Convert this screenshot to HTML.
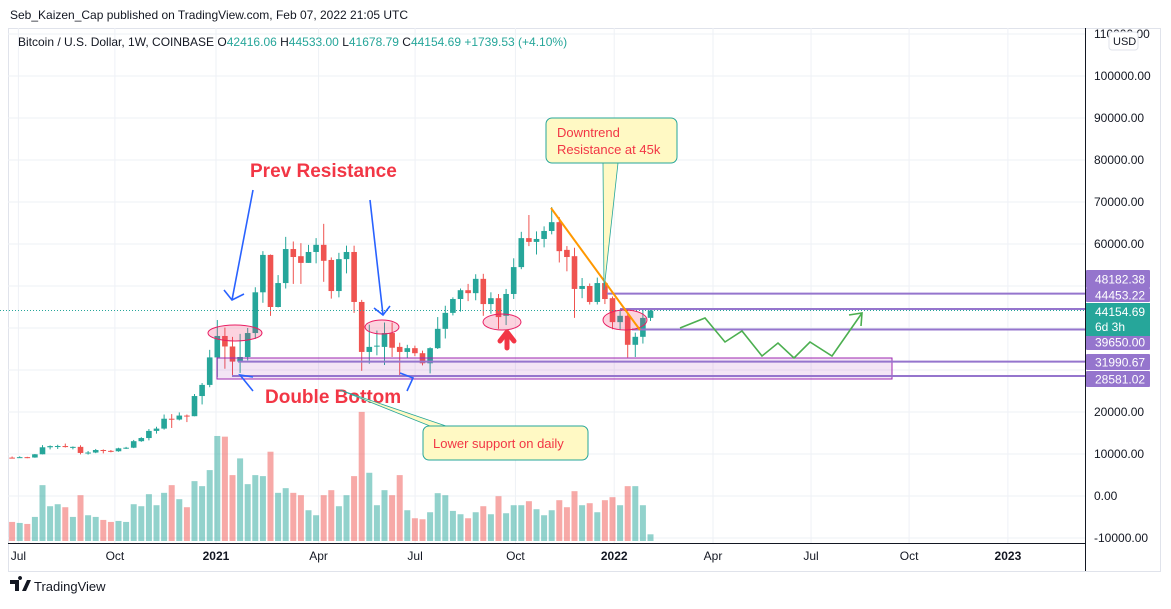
<!DOCTYPE html>
<html><head><meta charset="utf-8">
<style>
html,body{margin:0;padding:0;background:#fff;}
body{width:1171px;height:604px;overflow:hidden;font-family:"Liberation Sans",sans-serif;}
svg text{font-family:"Liberation Sans",sans-serif;}
</style></head>
<body>
<svg id="chart" width="1171" height="604" viewBox="0 0 1171 604" xmlns="http://www.w3.org/2000/svg">
<rect x="0" y="0" width="1171" height="604" fill="#fff"/>
<text x="10" y="19" font-size="12" fill="#131722">Seb_Kaizen_Cap published on TradingView.com, Feb 07, 2022 21:05 UTC</text>
<rect x="8.5" y="28.5" width="1152" height="543" fill="none" stroke="#e0e3eb"/>
<g id="grid"></g>
<g id="vol"></g>
<g id="candles"></g>
<g id="ann">
 <rect x="217" y="358" width="675" height="21" fill="rgba(156,39,176,0.12)" stroke="#9c27b0" stroke-width="1"/>
 <line x1="607" y1="293.6" x2="1085" y2="293.6" stroke="#9575cd" stroke-width="2"/>
 <line x1="620" y1="309" x2="1085" y2="309" stroke="#9575cd" stroke-width="2"/>
 <line x1="632" y1="329.5" x2="1085" y2="329.5" stroke="#9575cd" stroke-width="2"/>
 <line x1="238" y1="361.6" x2="1085" y2="361.6" stroke="#9575cd" stroke-width="2"/>
 <line x1="232" y1="376" x2="1085" y2="376" stroke="#9575cd" stroke-width="2"/>
 <line x1="0" y1="310.5" x2="1085" y2="310.5" stroke="#26a69a" stroke-dasharray="1 2"/>
 <ellipse cx="235" cy="333" rx="27" ry="8" fill="rgba(242,54,110,0.22)" stroke="#e91e63"/>
 <ellipse cx="382" cy="327" rx="17" ry="7" fill="rgba(242,54,110,0.22)" stroke="#e91e63"/>
 <ellipse cx="502" cy="322" rx="19" ry="8" fill="rgba(242,54,110,0.22)" stroke="#e91e63"/>
 <ellipse cx="625" cy="320" rx="22" ry="10" fill="rgba(242,54,110,0.22)" stroke="#e91e63"/>
 <line x1="551" y1="208" x2="640" y2="330" stroke="#ff9800" stroke-width="2"/>
 <path d="M507 332 L500 341 M507 332 L514 341 M507 332 L507 348" stroke="#f23645" stroke-width="5" stroke-linecap="round" fill="none"/>
 <path d="M253 190 L232 300 M224 290 L232 300 L244 294" stroke="#2962ff" stroke-width="1.6" fill="none"/>
 <path d="M370 200 L383 315 M374 308 L383 315 L390 306" stroke="#2962ff" stroke-width="1.6" fill="none"/>
 <path d="M253 377 L240 375 L253 391" stroke="#2962ff" stroke-width="1.6" fill="none"/>
 <path d="M400 373 L413 378 L407 391" stroke="#2962ff" stroke-width="1.6" fill="none"/>
 <polyline points="680,328 705,318 725,342 742,331 762,356 778,343 794,358 810,342 832,356 862,313" stroke="#4caf50" stroke-width="1.6" fill="none"/>
 <path d="M849 315 L862 313 L861 326" stroke="#4caf50" stroke-width="1.6" fill="none"/>
 <text x="250" y="177" font-size="19" font-weight="bold" fill="#f23645">Prev Resistance</text>
 <text x="265" y="403" font-size="19" font-weight="bold" fill="#f23645">Double Bottom</text>
 <path d="M603 163 L604 290 L618 163 Z" fill="#fff9c4" stroke="#26a69a" stroke-width="0.8"/>
 <rect x="546" y="118" width="131" height="45" rx="6" fill="#fff9c4" stroke="#26a69a"/>
 <text x="557" y="137" font-size="13" fill="#f23645">Downtrend</text>
 <text x="557" y="154" font-size="13" fill="#f23645">Resistance at 45k</text>
 <path d="M430 426 L340 390 L446 426 Z" fill="#fff9c4" stroke="#26a69a" stroke-width="0.8"/>
 <rect x="423" y="426" width="165" height="34" rx="6" fill="#fff9c4" stroke="#26a69a"/>
 <text x="433" y="448" font-size="13" fill="#f23645">Lower support on daily</text>
</g>
<line x1="1085.5" y1="28" x2="1085.5" y2="571" stroke="#131722"/>
<line x1="8" y1="543.5" x2="1085" y2="543.5" stroke="#131722"/>
<g id="yaxis"></g>
<g id="xaxis"></g>
<g id="plabels"></g>
<rect x="1109" y="32" width="29" height="18" rx="3" fill="#fff" stroke="#e0e3eb"/>
<text x="1113" y="45" font-size="11" fill="#131722">USD</text>
<text x="18" y="46" font-size="12" fill="#131722">Bitcoin / U.S. Dollar, 1W, COINBASE  O<tspan fill="#26a69a">42416.06</tspan>  H<tspan fill="#26a69a">44533.00</tspan>  L<tspan fill="#26a69a">41678.79</tspan>  C<tspan fill="#26a69a">44154.69  +1739.53 (+4.10%)</tspan></text>
<g>
 <path d="M10 580 h9 v11 h-4 v-7 h-5 z M20 580 a2 2 0 1 1 0.1 0 M22 591 l5 -11 h4 l-5 11 z" fill="#131722"/>
 <text x="34" y="591" font-size="13" fill="#131722">TradingView</text>
</g>
</svg>
<script>
const opens  = [9140,9070,9250,9160,9930,11600,11880,11900,11650,11700,10250,10350,10950,10750,10650,11350,11500,13050,13800,15500,16050,18400,18200,19150,19000,23800,26450,33000,38100,35600,32000,33100,38800,48500,57400,45000,50700,58800,57100,55500,58100,59800,56200,48800,56400,58100,46200,34300,35600,35500,38800,35500,34300,35200,34000,31600,35200,39800,43600,46900,49000,48300,51700,45700,47100,42900,48100,54500,61400,60500,61200,63100,65200,58600,57100,49300,50000,46200,50700,47100,41400,42900,36000,37900,42416];
const highs  = [9400,9450,9330,10000,12100,12050,12200,12480,11800,12080,10700,11200,11090,10950,11500,11700,13350,14000,15950,16500,19400,19500,19900,19400,24300,26900,34800,41900,40100,37900,38600,40000,49700,58300,57500,52600,61700,60600,60200,59800,61400,64800,56800,57900,59600,59600,46700,40800,39400,41300,41300,36500,36000,35800,34600,35400,42600,45300,47300,49400,50500,52800,52900,48500,48100,49300,56600,62900,66900,63000,64200,68800,66400,59500,59100,51900,50600,52000,52100,47500,44400,43500,38900,44500,44533];
const lows   = [8950,9050,9000,9100,9900,11100,11200,11550,11100,9900,9850,10200,10150,10400,10550,11200,11400,12900,13250,14850,15800,16200,18000,17600,19000,21800,25900,28300,30300,28800,29300,32300,37400,46000,42900,44900,49400,50500,50500,55500,55400,51000,47000,47300,53000,43600,29800,31500,33500,31200,33100,28800,32800,33300,31100,29200,35000,37500,43000,43900,46400,46600,42900,43400,39800,40700,46900,54000,59500,57500,59200,62300,55600,53500,42400,47100,45600,45600,45700,39700,39600,33000,33100,36300,41679];
const closes = [9070,9250,9160,9930,11600,11880,11900,11650,11700,10250,10350,10950,10750,10650,11350,11500,13050,13800,15500,16050,18400,18200,19150,19000,23800,26450,33000,38100,35600,32000,33100,38800,48500,57400,45000,50700,58800,56900,55500,58100,59800,56000,48800,56400,58100,46200,34300,35500,35800,38800,35300,34300,35200,34000,31600,35200,39800,43600,46900,49000,48300,51700,45700,47100,42600,48100,54500,61400,60500,61200,63100,65200,58300,56900,49300,50000,46200,50700,46900,41400,42900,36000,37900,42400,44154];
const volumes = [57,54,51,72,167,104,110,101,72,137,77,72,63,57,60,57,110,104,140,107,144,167,125,101,179,164,212,314,312,197,247,170,197,194,267,144,158,144,137,92,77,137,152,104,137,194,386,204,107,152,137,197,92,68,65,86,143,137,90,80,68,86,104,80,134,83,107,107,119,95,77,92,122,101,149,107,113,86,122,131,107,164,164,107,20];
const priceTicks = [110000,100000,90000,80000,70000,60000,50000,40000,30000,20000,10000,0,-10000];
const shownTicks = [110000,100000,90000,80000,70000,60000,20000,10000,0,-10000];
const timeLabels = ["Jul","Oct","2021","Apr","Jul","Oct","2022","Apr","Jul","Oct","2023"];
const timeLabelWeeks = [0.3,13,26.3,39.8,52.5,65.7,78.7,91.7,104.6,117.5,130.5];
const levelValues = [48182.38,44453.22,39650.00,31990.67,28581.02];

const NS="http://www.w3.org/2000/svg";
function yP(p){return 496 - p*0.0042;}
function xW(i){return 12.1 + i*7.6;}
function yV(v){return 541 - v/2.99;}
function mk(tag,attrs,parent){const e=document.createElementNS(NS,tag);for(const k in attrs)e.setAttribute(k,attrs[k]);parent.appendChild(e);return e;}
const G='#26a69a',R='#ef5350';
const grid=document.getElementById('grid');
priceTicks.forEach(p=>{const l=mk('line',{x1:8,x2:1085,y1:yP(p),y2:yP(p),stroke:'#eef1f6'},grid);

});
timeLabelWeeks.forEach(w=>{const l=mk('line',{x1:xW(w)+4,x2:xW(w)+4,y1:28,y2:543,stroke:'#eef1f6'},grid);

});
const vg=document.getElementById('vol');
volumes.forEach((v,i)=>{const up=closes[i]>=opens[i];const r=mk('rect',{x:xW(i)-3,y:yV(v),width:6,height:541-yV(v),fill:up?'rgba(38,166,154,0.5)':'rgba(239,83,80,0.5)'},vg);

});
const cg=document.getElementById('candles');
opens.forEach((o,i)=>{const c=closes[i];const col=c>=o?G:R;const x=xW(i);
const w=mk('line',{x1:x,x2:x,y1:yP(highs[i]),y2:yP(lows[i]),stroke:col,'stroke-width':1},cg);


const t=Math.min(yP(o),yP(c));const h=Math.max(1,Math.abs(yP(o)-yP(c)));
const b=mk('rect',{x:x-2.8,y:t,width:5.6,height:h,fill:col},cg);

});
const ya=document.getElementById('yaxis');
shownTicks.forEach(p=>{const t=mk('text',{x:1094,y:yP(p)+4,'font-size':12,fill:'#131722'},ya);t.textContent=p.toFixed(2);

});
const xa=document.getElementById('xaxis');
timeLabels.forEach((s,i)=>{const bold=/^\d/.test(s);const t=mk('text',{x:xW(timeLabelWeeks[i])+4,y:560,'font-size':12,'text-anchor':'middle',fill:'#131722','font-weight':bold?'bold':'normal'},xa);t.textContent=s;

});
const pl=document.getElementById('plabels');
const levelBoxes=[[270,288],[288,302],[334,350],[354,370],[371,387]];
levelValues.forEach((v,i)=>{const [a,b]=levelBoxes[i];const r=mk('rect',{x:1086,y:a,width:64,height:b-a,fill:'#9575cd',rx:1},pl);


const t=mk('text',{x:1095,y:(a+b)/2+4.5,'font-size':12,fill:'#fff'},pl);t.textContent=v.toFixed(2);

});
const cr=mk('rect',{x:1086,y:303,width:64,height:33,fill:'#26a69a'},pl);


const ct=mk('text',{x:1095,y:316,'font-size':12,fill:'#fff'},pl);ct.textContent='44154.69';


const cd=mk('text',{x:1095,y:331,'font-size':12,fill:'#fff'},pl);cd.textContent='6d 3h';


</script>
</body></html>
